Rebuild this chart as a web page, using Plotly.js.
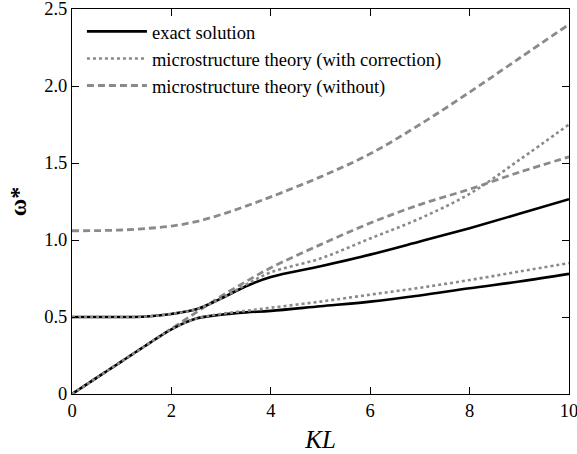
<!DOCTYPE html>
<html>
<head>
<meta charset="utf-8">
<script src="https://cdn.plot.ly/plotly-3.0.1.min.js"></script>
<style>html,body{margin:0;padding:0;background:#fff;}#chart{width:577px;height:454px;}</style>
</head>
<body>
<div id="chart"></div>
<script>
// KL sample positions
var klA = [0, 0.5, 1, 1.5, 2, 2.5, 3, 3.5, 4, 5, 6, 7, 8, 9, 10];
// exact solution, two branches
var exactLower = [0, 0.106, 0.212, 0.318, 0.42, 0.49, 0.515, 0.53, 0.54, 0.57, 0.60, 0.64, 0.687, 0.73, 0.78];
var exactUpper = [0.5, 0.5, 0.5, 0.503, 0.52, 0.55, 0.62, 0.70, 0.76, 0.83, 0.905, 0.99, 1.077, 1.17, 1.265];
// microstructure theory with correction
var corrLower = [0, 0.106, 0.212, 0.318, 0.42, 0.49, 0.52, 0.54, 0.56, 0.60, 0.645, 0.69, 0.74, 0.795, 0.85];
var corrUpper = [0.5, 0.5, 0.5, 0.503, 0.52, 0.55, 0.62, 0.71, 0.79, 0.88, 1.01, 1.14, 1.30, 1.52, 1.75];
// microstructure theory without correction
var woLower = [0, 0.106, 0.212, 0.318, 0.424, 0.53, 0.635, 0.73, 0.82, 0.97, 1.11, 1.23, 1.33, 1.44, 1.54];
var woUpper = [1.06, 1.061, 1.065, 1.075, 1.09, 1.12, 1.165, 1.22, 1.28, 1.41, 1.56, 1.75, 1.96, 2.18, 2.40];

var names = ['exact solution', 'microstructure theory (with correction)', 'microstructure theory (without)'];
var xTicks = [0, 2, 4, 6, 8, 10];
var xTickText = ['0', '2', '4', '6', '8', '10'];
var yTicks = [0, 0.5, 1, 1.5, 2, 2.5];
var yTickText = ['0', '0.5', '1.0', '1.5', '2.0', '2.5'];

var gray = '#8a8a8a';
function tr(y, name, show, group, line) {
  return {x: klA, y: y, type: 'scatter', mode: 'lines', name: name, showlegend: show,
    legendgroup: group, line: Object.assign({shape: 'spline', smoothing: 1}, line)};
}
var solid = {color: '#000', width: 2.6, dash: 'solid'};
var dotted = {color: gray, width: 2.6, dash: 'dot'};
var dashed = {color: gray, width: 2.8, dash: '7px,4px'};
var data = [
  tr(woUpper, names[2], false, 'c', dashed),
  tr(woLower, names[2], false, 'c', dashed),
  tr(exactUpper, names[0], true, 'a', solid),
  tr(exactLower, names[0], false, 'a', solid),
  tr(corrUpper, names[1], true, 'b', dotted),
  tr(corrLower, names[1], false, 'b', dotted),
  {x: [null], y: [null], type: 'scatter', mode: 'lines', name: names[2], showlegend: true, legendgroup: 'c', line: dashed}
];
var font = {family: '"Liberation Serif", "Times New Roman", serif', color: '#000'};
var layout = {
  width: 577, height: 454,
  margin: {l: 71.7, r: 7.7, t: 9.3, b: 60},
  paper_bgcolor: '#fff', plot_bgcolor: '#fff',
  font: Object.assign({size: 18}, font),
  showlegend: true,
  legend: {x: 0.02, y: 0.99, xanchor: 'left', yanchor: 'top', bgcolor: 'rgba(0,0,0,0)',
    font: Object.assign({size: 18.5}, font), itemwidth: 60, tracegroupgap: 0, traceorder: 'normal'},
  xaxis: {range: [0, 10], tickvals: xTicks, ticktext: xTickText, ticks: 'inside', ticklen: 7,
    tickcolor: '#000', showline: true, linecolor: '#000', linewidth: 1, mirror: 'ticks',
    ticklabeloverflow: 'allow',
    showgrid: false, zeroline: false, tickfont: Object.assign({size: 18.5}, font),
    title: {text: '<i>KL</i>', font: Object.assign({size: 25}, font), standoff: 10}},
  yaxis: {range: [0, 2.5], tickvals: yTicks, ticktext: yTickText, ticks: 'inside', ticklen: 7,
    tickcolor: '#000', showline: true, linecolor: '#000', linewidth: 1, mirror: 'ticks',
    ticklabeloverflow: 'allow',
    showgrid: false, zeroline: false, tickfont: Object.assign({size: 18.5}, font),
    title: {text: '<b>ω*</b>', font: Object.assign({size: 24}, font), standoff: 10}}
};
Plotly.newPlot('chart', data, layout, {displayModeBar: false, staticPlot: true});
</script>
</body>
</html>
